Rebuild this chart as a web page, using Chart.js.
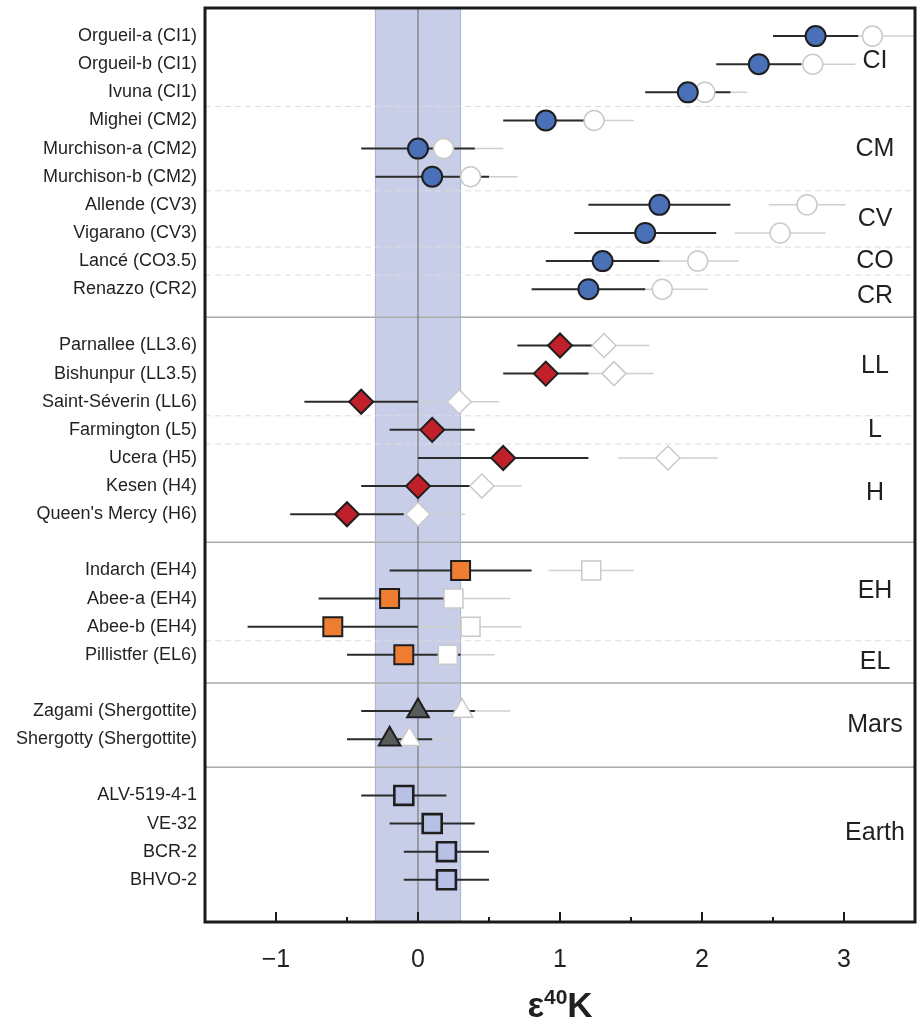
<!DOCTYPE html>
<html>
<head>
<meta charset="utf-8">
<script src="https://cdn.jsdelivr.net/npm/chart.js@4/dist/chart.umd.min.js"></script>
<style>
  html, body { margin: 0; padding: 0; background: #fff; }
  canvas { display: block; }
</style>
</head>
<body>
<canvas id="chart" width="923" height="1023"></canvas>
<script>
// ---- data -----------------------------------------------------------------
const samples = [
  'Orgueil-a (CI1)', 'Orgueil-b (CI1)', 'Ivuna (CI1)', 'Mighei (CM2)',
  'Murchison-a (CM2)', 'Murchison-b (CM2)', 'Allende (CV3)', 'Vigarano (CV3)',
  'Lancé (CO3.5)', 'Renazzo (CR2)',
  'Parnallee (LL3.6)', 'Bishunpur (LL3.5)', 'Saint-Séverin (LL6)', 'Farmington (L5)',
  'Ucera (H5)', 'Kesen (H4)', "Queen's Mercy (H6)",
  'Indarch (EH4)', 'Abee-a (EH4)', 'Abee-b (EH4)', 'Pillistfer (EL6)',
  'Zagami (Shergottite)', 'Shergotty (Shergottite)',
  'ALV-519-4-1', 'VE-32', 'BCR-2', 'BHVO-2'
];
// row index of each sample (gaps separate the meteorite classes)
const rows = [0, 1, 2, 3, 4, 5, 6, 7, 8, 9,
              11, 12, 13, 14, 15, 16, 17,
              19, 20, 21, 22,
              24, 25,
              27, 28, 29, 30];
// C = carbonaceous, O = ordinary, E = enstatite, M = Mars, T = Earth
const sampleClass = ['C','C','C','C','C','C','C','C','C','C',
                     'O','O','O','O','O','O','O',
                     'E','E','E','E',
                     'M','M',
                     'T','T','T','T'];
// filled symbols: ε40K and uncertainty
const epsK = [2.8, 2.4, 1.9, 0.9, 0.0, 0.1, 1.7, 1.6, 1.3, 1.2,
              1.0, 0.9, -0.4, 0.1, 0.6, 0.0, -0.5,
              0.3, -0.2, -0.6, -0.1,
              0.0, -0.2,
              -0.1, 0.1, 0.2, 0.2];
const epsKErr = [0.3, 0.3, 0.3, 0.3, 0.4, 0.4, 0.5, 0.5, 0.4, 0.4,
                 0.3, 0.3, 0.4, 0.3, 0.6, 0.4, 0.4,
                 0.5, 0.5, 0.6, 0.4,
                 0.4, 0.3,
                 0.3, 0.3, 0.3, 0.3];
// open symbols: ε40K and uncertainty (none for Farmington and the terrestrial rocks)
const epsKOpen = [3.2, 2.78, 2.02, 1.24, 0.18, 0.37, 2.74, 2.55, 1.97, 1.72,
                  1.31, 1.38, 0.29, null, 1.76, 0.45, 0.0,
                  1.22, 0.25, 0.37, 0.21,
                  0.31, -0.06,
                  null, null, null, null];
const epsKOpenErr = [0.35, 0.3, 0.3, 0.28, 0.42, 0.33, 0.27, 0.32, 0.29, 0.32,
                     0.32, 0.28, 0.28, null, 0.35, 0.28, 0.33,
                     0.3, 0.4, 0.36, 0.33,
                     0.34, 0.32,
                     null, null, null, null];

const groupLabels    = ['CI', 'CM', 'CV', 'CO', 'CR', 'LL', 'L', 'H', 'EH', 'EL', 'Mars', 'Earth'];
const groupLabelRows = [0.9, 4, 6.5, 8, 9.25, 11.75, 14, 16.25, 19.75, 22.25, 24.5, 28.35];
const solidRows  = [10, 18, 23, 26];
const dashedRows = [2.5, 5.5, 7.5, 8.5, 13.5, 14.5, 21.5];
const bandRange  = [-0.3, 0.3];
const majorTicks = [-1, 0, 1, 2, 3];
const minorTicks = [-0.5, 0.5, 1.5, 2.5];

// ---- styling --------------------------------------------------------------
const FONT = '"Liberation Sans", Arial, Helvetica, sans-serif';
const TEXT = '#231f20';
const classStyle = {
  C: { pointStyle: 'circle',   radius: 10,   fill: '#4a71b8', edge: 2 },
  O: { pointStyle: 'rectRot',  radius: 12,   fill: '#c1202b', edge: 2 },
  E: { pointStyle: 'rect',     radius: 13.4, fill: '#ee7d31', edge: 2 },
  M: { pointStyle: 'triangle', radius: 12.5, fill: '#575c5b', edge: 2 },
  T: { pointStyle: 'rect',     radius: 13.4, fill: '#b7c1e5', edge: 2.6 }
};

function points(cls, values) {
  const out = [];
  samples.forEach((s, i) => {
    if (sampleClass[i] === cls && values[i] != null) out.push({ x: values[i], y: rows[i] });
  });
  return out;
}

const datasets = [];
Object.keys(classStyle).forEach(cls => {
  const st = classStyle[cls];
  datasets.push({
    label: cls, data: points(cls, epsK), order: 1,
    pointStyle: st.pointStyle, pointRadius: st.radius, pointHoverRadius: st.radius,
    backgroundColor: st.fill, borderColor: '#1e1e1e', borderWidth: st.edge, pointBorderWidth: st.edge
  });
  const open = points(cls, epsKOpen);
  if (open.length) {
    datasets.push({
      label: cls + ' open', data: open, order: 2,
      pointStyle: st.pointStyle, pointRadius: st.radius, pointHoverRadius: st.radius,
      backgroundColor: '#ffffff', borderColor: '#c9c9c9', borderWidth: 1.5, pointBorderWidth: 1.5
    });
  }
});

function hLine(ctx, x0, x1, y) { ctx.beginPath(); ctx.moveTo(x0, y); ctx.lineTo(x1, y); ctx.stroke(); }
function vLine(ctx, x, y0, y1) { ctx.beginPath(); ctx.moveTo(x, y0); ctx.lineTo(x, y1); ctx.stroke(); }

// band, separators, reference line and error bars under the symbols;
// frame, ticks, group names and axis title on top
const decor = {
  id: 'decor',
  beforeDatasetsDraw(chart) {
    const { ctx, chartArea: a, scales: { x, y } } = chart;
    ctx.save();
    ctx.beginPath();
    ctx.rect(a.left, a.top, a.right - a.left, a.bottom - a.top);
    ctx.clip();

    const bl = x.getPixelForValue(bandRange[0]);
    const br = x.getPixelForValue(bandRange[1]);
    ctx.fillStyle = '#c8cee8';
    ctx.fillRect(bl, a.top, br - bl, a.bottom - a.top);
    ctx.strokeStyle = '#a9afd3';
    ctx.lineWidth = 1;
    vLine(ctx, bl, a.top, a.bottom);
    vLine(ctx, br, a.top, a.bottom);

    ctx.setLineDash([6, 4]);
    ctx.strokeStyle = '#dcdcdc';
    ctx.lineWidth = 1;
    dashedRows.forEach(r => hLine(ctx, a.left, a.right, y.getPixelForValue(r)));
    ctx.setLineDash([]);
    ctx.strokeStyle = '#ababab';
    ctx.lineWidth = 1.5;
    solidRows.forEach(r => hLine(ctx, a.left, a.right, y.getPixelForValue(r)));

    ctx.strokeStyle = '#777777';
    ctx.lineWidth = 1.2;
    vLine(ctx, x.getPixelForValue(0), a.top, a.bottom);

    ctx.strokeStyle = '#cfcfcf';
    ctx.lineWidth = 1.5;
    samples.forEach((s, i) => {
      if (epsKOpen[i] == null) return;
      hLine(ctx, x.getPixelForValue(epsKOpen[i] - epsKOpenErr[i]),
                 x.getPixelForValue(epsKOpen[i] + epsKOpenErr[i]), y.getPixelForValue(rows[i]));
    });
    ctx.strokeStyle = '#2b2b2b';
    ctx.lineWidth = 2;
    samples.forEach((s, i) => {
      hLine(ctx, x.getPixelForValue(epsK[i] - epsKErr[i]),
                 x.getPixelForValue(epsK[i] + epsKErr[i]), y.getPixelForValue(rows[i]));
    });
    ctx.restore();
  },
  afterDraw(chart) {
    const { ctx, chartArea: a, scales: { x, y } } = chart;
    ctx.save();

    ctx.fillStyle = TEXT;
    ctx.font = `25px ${FONT}`;
    ctx.textAlign = 'center';
    ctx.textBaseline = 'middle';
    groupLabels.forEach((g, i) => ctx.fillText(g, 875, y.getPixelForValue(groupLabelRows[i])));

    ctx.strokeStyle = '#1a1a1a';
    ctx.lineWidth = 2;
    majorTicks.forEach(v => vLine(ctx, x.getPixelForValue(v), a.bottom, a.bottom - 10));
    minorTicks.forEach(v => vLine(ctx, x.getPixelForValue(v), a.bottom, a.bottom - 5));
    ctx.lineWidth = 3;
    ctx.strokeRect(a.left, a.top, a.right - a.left, a.bottom - a.top);

    // axis title: ε with superscript 40, then K
    const big = `bold 35px ${FONT}`, small = `bold 21px ${FONT}`;
    const parts = [['ε', big, 0], ['40', small, -13], ['K', big, 0]];
    let total = 0;
    parts.forEach(p => { ctx.font = p[1]; p.push(ctx.measureText(p[0]).width); total += p[3]; });
    let cx = (a.left + a.right) / 2 - total / 2;
    ctx.textAlign = 'left';
    ctx.textBaseline = 'alphabetic';
    parts.forEach(p => { ctx.font = p[1]; ctx.fillText(p[0], cx, 1017 + p[2]); cx += p[3]; });
    ctx.restore();
  }
};

new Chart(document.getElementById('chart'), {
  type: 'scatter',
  data: { datasets },
  plugins: [decor],
  options: {
    responsive: false,
    animation: false,
    events: [],
    layout: { autoPadding: false, padding: { top: 8, right: 8, left: 0, bottom: 0 } },
    plugins: { legend: { display: false }, tooltip: { enabled: false } },
    scales: {
      x: {
        type: 'linear', min: -1.5, max: 3.5,
        afterBuildTicks: s => { s.ticks = majorTicks.map(v => ({ value: v })); },
        ticks: {
          autoSkip: false, maxRotation: 0, padding: 23, color: TEXT,
          font: { family: FONT, size: 25 },
          callback: v => (v < 0 ? '\u2212' + Math.abs(v) : String(v))
        },
        grid: { display: false, drawTicks: false },
        border: { display: false },
        afterFit: s => { s.height = 101; s.paddingLeft = 0; s.paddingRight = 0; }
      },
      y: {
        type: 'linear', min: -1, max: 31.5, reverse: true,
        afterBuildTicks: s => { s.ticks = rows.map(v => ({ value: v })); },
        ticks: {
          autoSkip: false, padding: 8, color: TEXT,
          font: { family: FONT, size: 18 },
          callback: v => { const i = rows.indexOf(v); return i >= 0 ? samples[i] : ''; }
        },
        grid: { display: false, drawTicks: false },
        border: { display: false },
        afterFit: s => { s.width = 205; s.paddingTop = 0; s.paddingBottom = 0; }
      }
    }
  }
});
</script>
</body>
</html>
